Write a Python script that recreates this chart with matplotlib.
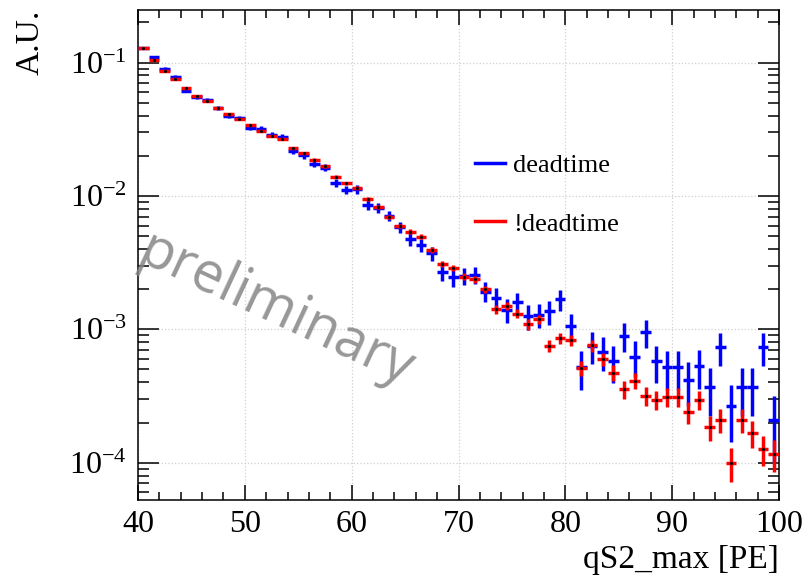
import matplotlib
matplotlib.use("Agg")
import matplotlib.pyplot as plt
from matplotlib.lines import Line2D
from matplotlib.ticker import MultipleLocator, LogLocator, NullFormatter
import numpy as np

plt.rcParams['font.family'] = ['Liberation Serif', 'DejaVu Serif']
plt.rcParams['mathtext.fontset'] = 'stix'

# bins of qS2_max, width 1 PE
bin_edges = np.arange(40, 101, 1)
centers = 0.5 * (bin_edges[:-1] + bin_edges[1:])

# normalised histograms (A.U.)
dead = [0.129, 0.110, 0.0902, 0.0785, 0.0616, 0.0550, 0.0525, 0.0460, 0.0398, 0.0385,
        0.0324, 0.0320, 0.0287, 0.0277, 0.0218, 0.0201, 0.0174, 0.0163, 0.0126, 0.0111,
        0.0112, 0.00857, 0.00812, 0.0071, 0.00583, 0.00474, 0.0043, 0.00372, 0.00267, 0.00246,
        0.00253, 0.00256, 0.00192, 0.00173, 0.0014, 0.00159, 0.00126, 0.00129, 0.00136, 0.00168,
        0.00105, 0.00052, 0.00075, 0.00068, 0.000574, 0.000893, 0.000625, 0.000953, 0.000574, 0.000521,
        0.00052, 0.000418, 0.000527, 0.000368, 0.000736, 0.000264, 0.000368, 0.000368, 0.000736, 0.000208]
nodead = [0.129, 0.1048, 0.0871, 0.0755, 0.0643, 0.0562, 0.0514, 0.0455, 0.0412, 0.0377,
          0.0341, 0.0309, 0.0281, 0.0269, 0.0228, 0.0209, 0.0187, 0.0167, 0.01396, 0.01247,
          0.0115, 0.0095, 0.00824, 0.00694, 0.00597, 0.0054, 0.00496, 0.00394, 0.00308, 0.0029,
          0.00248, 0.00238, 0.0020, 0.00142, 0.0015, 0.00131, 0.00109, 0.00119, 0.00075, 0.00086,
          0.00083, 0.000512, 0.000757, 0.000598, 0.000474, 0.000356, 0.000413, 0.000317, 0.000296, 0.000313,
          0.00031, 0.000239, 0.000296, 0.000185, 0.00021, 0.0001, 0.00021, 0.000167, 0.000127, 0.000117]
# entries used for normalisation (sets the Poisson error bars)
n_dead = 18000
n_nodead = 120000

dead = np.array(dead)
nodead = np.array(nodead)
err_dead = np.sqrt(dead / n_dead)
err_nodead = np.sqrt(nodead / n_nodead)

fig = plt.figure(figsize=(8.04, 5.86), dpi=100)
ax = fig.add_axes([0.1716, 0.1468, 0.7974, 0.8362])

ax.errorbar(centers, dead, yerr=err_dead, xerr=0.5, fmt='none', ecolor='#0000ff',
            elinewidth=2.5, capsize=0, zorder=3)
ax.errorbar(centers, nodead, yerr=err_nodead, xerr=0.5, fmt='none', ecolor='#ff0000',
            elinewidth=2.5, capsize=0, zorder=4)
ax.plot(centers, nodead, ls='none', marker='o', ms=1.2, color='k', zorder=5)

ax.set_yscale('log')
ax.set_xlim(40, 100)
ax.set_ylim(5.25e-5, 0.248)

ax.xaxis.set_major_locator(MultipleLocator(10))
ax.xaxis.set_minor_locator(MultipleLocator(2))
ax.yaxis.set_major_locator(LogLocator(base=10, numticks=10))
ax.yaxis.set_minor_locator(LogLocator(base=10, subs=np.arange(2, 10), numticks=20))
ax.yaxis.set_minor_formatter(NullFormatter())

ax.tick_params(which='both', direction='in', top=True, right=True, labelsize=23, width=1.1)
ax.tick_params(axis='x', which='major', length=10.5, pad=7)
ax.tick_params(axis='x', which='minor', length=5.5)
ax.tick_params(axis='y', which='major', length=15, pad=8)
ax.tick_params(axis='y', which='minor', length=8)
for s in ax.spines.values():
    s.set_linewidth(1.1)

ax.grid(True, which='major', ls=':', color='#d0d0d0', lw=0.9)

ax.set_xlabel('qS2_max [PE]', fontsize=24, loc='right')
ax.set_ylabel('A.U.', fontsize=24, loc='top', labelpad=17)

handles = [Line2D([], [], color='#0000ff', lw=2.5), Line2D([], [], color='#ff0000', lw=2.5)]
ax.legend(handles, ['deadtime', '!deadtime'], loc='upper left', bbox_to_anchor=(0.561, 0.778),
          bbox_transform=fig.transFigure, frameon=False, fontsize=19,
          handlelength=1.15, handletextpad=0.3, labelspacing=1.32)

fig.text(0.343, 0.47, 'preliminary', fontsize=40, family='Open Sans', color='#858585',
         rotation=-25, ha='center', va='center', alpha=0.85)

fig.savefig('out.png', dpi=100)
